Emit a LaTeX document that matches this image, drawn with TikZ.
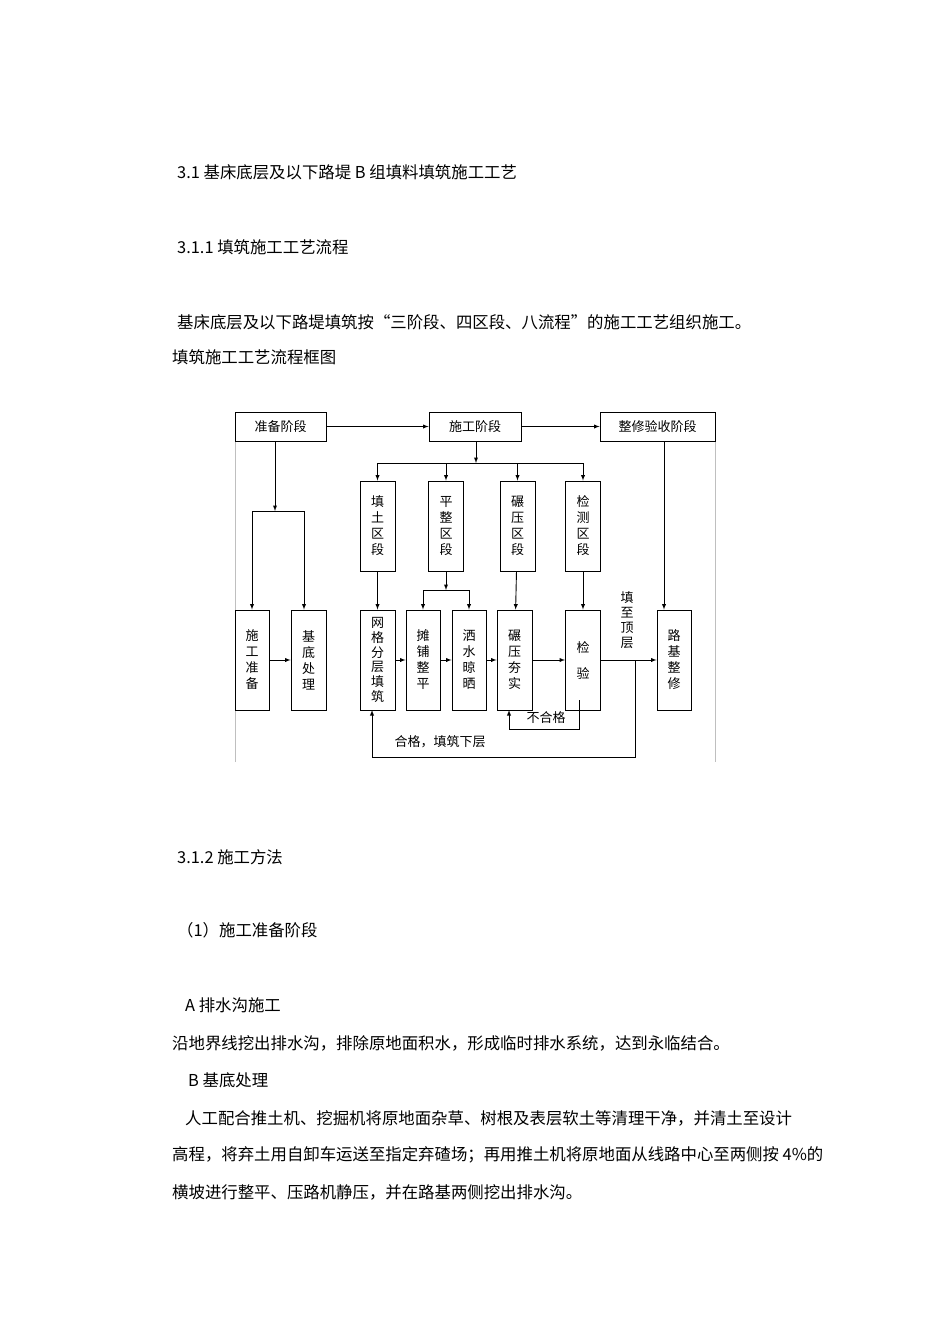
\documentclass[tikz,border=0pt]{standalone}
\usepackage{fontspec}
\setmainfont{Noto Sans CJK SC}
\begin{document}
\begin{tikzpicture}[x=1pt,y=-1pt,
  bx/.style={draw,line width=0.9pt,inner sep=0pt,font=\fontsize{13}{16}\selectfont,align=center},
  hb/.style={bx,minimum height=29pt},
  vb/.style={bx,minimum width=35pt},
  ar/.style={-latex,line width=0.9pt},
  ln/.style={line width=0.9pt},
  body/.style={anchor=west,inner sep=0pt,font=\fontsize{16.4}{19}\selectfont}]
\useasboundingbox (0,0) rectangle (950,1344);
% page texts
\node[body] (t1) at (177,172) {3.1 基床底层及以下路堤 B 组填料填筑施工工艺};
\node[body] (t2) at (177,247) {3.1.1 填筑施工工艺流程};
\node[body] (t3) at (177,322) {基床底层及以下路堤填筑按“三阶段、四区段、八流程”的施工工艺组织施工。};
\node[body] (t4) at (172,357) {填筑施工工艺流程框图};
\node[body] (t5) at (177,857) {3.1.2 施工方法};
\node[body] (t6) at (177,930) {（1）施工准备阶段};
\node[body] (t7) at (185,1005) {A 排水沟施工};
\node[body] (t8) at (172,1043) {沿地界线挖出排水沟，排除原地面积水，形成临时排水系统，达到永临结合。};
\node[body] (t9) at (188,1080) {B 基底处理};
\node[body] (t10) at (185,1118) {人工配合推土机、挖掘机将原地面杂草、树根及表层软土等清理干净，并清土至设计};
\node[body] (t11) at (172,1155) {高程，将弃土用自卸车运送至指定弃碴场；再用推土机将原地面从线路中心至两侧按 4\%的};
\node[body] (t12) at (172,1192) {横坡进行整平、压路机静压，并在路基两侧挖出排水沟。};
% frame
\draw[black!25,line width=0.5pt] (235,762) -- (235,412) (715,412) -- (715,762);
% top row
\node[hb,minimum width=91pt] (zb) at (280.5,426.5) {准备阶段};
\node[hb,minimum width=92pt] (sg) at (475,426.5) {施工阶段};
\node[hb,minimum width=115pt] (zx) at (657.5,426.5) {整修验收阶段};
\draw[ar] (zb) -- (sg);
\draw[ar] (sg) -- (zx);
% row 1
\node[vb,minimum height=90pt] (tt) at (377.5,526) {填\\土\\区\\段};
\node[vb,minimum height=90pt] (pz) at (446,526) {平\\整\\区\\段};
\node[vb,minimum height=90pt] (ny) at (517.5,526) {碾\\压\\区\\段};
\node[vb,minimum height=90pt] (jc) at (583,526) {检\\测\\区\\段};
% row 2
\node[vb,minimum height=100pt,minimum width=34pt] (sz) at (252,660) {施\\工\\准\\备};
\node[vb,minimum height=100pt] (jd) at (308.5,660) {基\\底\\处\\理};
\node[vb,minimum height=100pt,font=\fontsize{13}{14.8}\selectfont] (wg) at (377.5,660) {网\\格\\分\\层\\填\\筑};
\node[vb,minimum height=100pt,minimum width=34pt] (tp) at (423,660) {摊\\铺\\整\\平};
\node[vb,minimum height=100pt,minimum width=34pt] (ss) at (469,660) {洒\\水\\晾\\晒};
\node[vb,minimum height=100pt] (nh) at (514.5,660) {碾\\压\\夯\\实};
\node[vb,minimum height=100pt,font=\fontsize{13}{26}\selectfont] (jy) at (583,660) {检\\验};
\node[vb,minimum height=100pt,minimum width=34pt] (lj) at (674,660) {路\\基\\整\\修};
% connectors: 准备
\coordinate (c1) at (275,511);
\draw[ar] (275,441) -- (c1);
\draw[ln] (252,511) -- (304,511);
\draw[ar] (252,511) -- (sz.north);
\draw[ar] (304,511) -- (jd.north -| 304,0);
% 施工 branches
\coordinate (c2) at (476,463);
\draw[ar] (sg.south -| c2) -- (c2);
\draw[ln] (377.5,463) -- (583,463);
\draw[ar] (377.5,463) -- (tt.north);
\draw[ar] (446,463) -- (pz.north);
\draw[ar] (517.5,463) -- (ny.north);
\draw[ar] (583,463) -- (jc.north);
\draw[ar] (tt) -- (wg);
\draw[ar] (pz.south) -- (446,590);
\draw[ln] (423,590) -- (469,590);
\draw[ar] (423,590) -- (tp.north);
\draw[ar] (469,590) -- (ss.north);
\draw[ar] (ny) -- (nh);
\draw[ar] (jc) -- (jy);
\draw[ar] (664,441) -- (lj.north -| 664,0);
% row 2 horizontal
\draw[ar] (sz) -- (jd);
\draw[ar] (wg) -- (tp);
\draw[ar] (tp) -- (ss);
\draw[ar] (ss) -- (nh);
\draw[ar] (nh) -- (jy);
\draw[ar] (jy) -- (lj);
\node[font=\fontsize{13}{15}\selectfont,align=center] (tz) at (627,620) {填\\至\\顶\\层};
% 不合格 loop
\draw[ar] (579,700) -- (579,729) -- (509,729) -- (509,710);
\node[font=\fontsize{13}{15}\selectfont,fill=white,inner sep=1pt] (bhg) at (546,718) {不合格};
% 合格 loop
\draw[ar] (635,660) -- (635,757) -- (372,757) -- (372,710);
\node[font=\fontsize{13}{15}\selectfont] (hg) at (440,742) {合格，填筑下层};
\end{tikzpicture}
\end{document}
